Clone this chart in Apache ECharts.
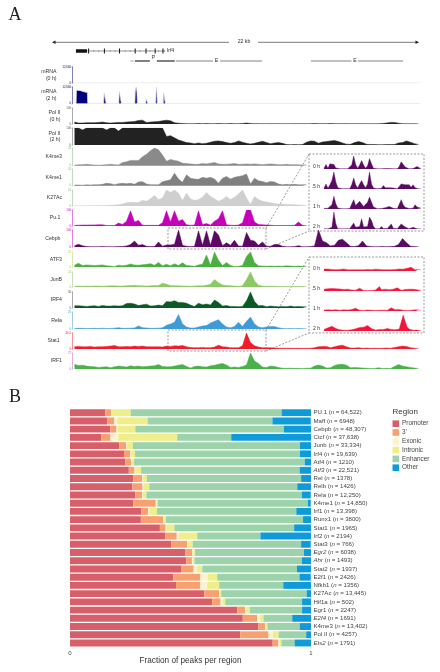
<!DOCTYPE html>
<html><head><meta charset="utf-8">
<style>html,body{margin:0;padding:0;background:#fff}#c{width:440px;height:672px}</style>
<script src="https://cdn.jsdelivr.net/npm/echarts@6/dist/echarts.min.js"></script>
</head><body><div id="c"></div>
<script>
// ---------- Panel B data ----------
const factors=['PU.1','Maff','Cebpb','Ctcf','Junb','Irf4','Atf4','Atf3','Rel','Relb','Rela','K4me1','Irf1','Runx1','Stat1','Irf2','Stat3','Egr2','Ahr','Stat2','E2f1','Nfkb1','K27Ac','Hif1a','Egr1','E2f4','K4me3','Pol II','Ets2'];
const peakCounts=['64,522','6948','48,307','37,638','33,334','19,639','1210','22,521','1378','1426','12,250','14,850','13,398','3800','1965','2194','766','6038','1493','1937','2426','1356','13,445','502','2247','1691','13,402','4257','1791'];
const italicFactors=['Atf3','Egr2','Ahr','E2f4','Ets2'];
const promoter=[14.7,15.5,16.8,12.9,20.5,22.4,23,24.4,26.2,25.9,27.1,26.2,29.5,29.4,37.3,39.5,42.1,47.8,48.2,46.3,42.9,44,55.8,59,69.4,71.7,78.1,70.6,84.1];
const threePrime=[2.4,2.9,2.5,3.9,2.8,2.5,2.4,2.4,3.7,4.2,2.8,9.4,3,9.3,2.4,4.8,6.5,3,2.4,5,11.2,10.1,6.1,3.5,3.2,6,2.9,11.8,2.4];
const exonic=[0.3,1.2,0.6,3.2,0.4,0.3,0.4,0.3,0.3,0.4,0.3,0.4,0.7,0.4,0.4,1,0.4,0.4,0.4,1.4,3,2.8,0.4,0.8,0.6,1.2,0.3,1.8,0.4];
const intronic=[7.8,12.6,7.2,24.5,2.4,1.8,0.8,2.4,1.7,2.4,1.5,0.4,2.9,0.7,3.2,7.5,1.9,0.7,0.7,2.2,4,5,0.4,1.1,1.4,1.4,0.6,2.4,0.8];
const enhancer=[62.6,51.8,61.6,22.4,69.3,68.4,70.8,65.8,64,61.4,64.5,62.3,57.8,56.9,49.7,26.2,45,45.2,44.5,39.3,34.1,26.6,35.5,31.9,21.7,11.9,13.4,11.4,5.5];
const other=[12.3,15.9,11.4,33.1,4.7,4.6,2.6,4.8,4.2,5.8,3.7,1.2,6.1,3.3,7.1,21.1,4,2.9,3.9,5.8,4.7,11.5,1.8,3.7,3.7,7.8,4.7,2.1,6.8];
const regionNames=['Promoter',"3'",'Exonic','Intronic','Enhancer','Other'];

// ---------- Panel A data: track height as % of track scale, one value per genome bin ----------
const mrna2h=[[0.9,0],[1,80],[1.4,92],[2,78],[2.6,72],[3,70],[3.7,66],[3.8,0],[7.8,0],[7.9,62],[8.3,62],[8.4,0],[11.6,0],[11.7,72],[12.1,72],[12.2,0],[15.6,0],[15.7,70],[15.9,100],[16.1,70],[16.2,0],[18.3,0],[18.4,26],[18.7,26],[18.8,0],[20.8,0],[20.9,60],[21,100],[21.1,60],[21.2,0],[22.7,0],[22.8,62],[23.1,62],[23.2,0],[87,0]];
const mrna0h=[[0,0],[87,0]];
const pol0h=[12,6,6,8,8,8,10,12,8,6,8,10,10,12,14,16,22,24,10,12,14,16,20,24,20,8,5,3,2,2,2,3,2,3,2,2,3,2,2,3,2,2,3,6,3,2,2,1,1,2,1,2,1,1,1,2,1,2,1,2,3,2,2,2,3,2,2,2,2,1,2,1,2,1,1,1,2,3,6,10,10,5,2,1,1,1,1];
const pol2h=[100,100,88,100,100,100,100,100,88,100,100,82,100,100,100,100,100,100,100,100,100,100,100,50,55,42,30,22,14,12,8,12,8,10,16,22,24,20,14,10,14,24,16,10,6,10,16,22,14,8,12,14,10,3,2,3,2,3,16,24,22,10,18,20,24,26,20,12,5,4,14,20,14,4,3,3,2,2,3,3,3,12,14,24,16,8,3];
const k4me3=[3,5,6,8,6,4,3,4,6,8,6,4,18,22,30,30,30,50,65,85,100,90,60,25,35,30,25,14,12,10,8,8,12,10,14,18,10,8,8,10,12,8,8,10,8,10,8,6,8,10,8,6,6,8,5,6,5,4,4];
const k4me1=[4,4,3,5,4,6,6,8,14,12,6,12,14,12,14,8,22,24,10,6,6,5,24,30,35,75,40,20,65,45,40,38,50,45,50,40,15,45,55,40,50,55,60,70,10,45,30,25,18,25,22,10,6,8,6,8,5,6,5];
const k27ac=[1,1,2,2,2,2,3,3,3,4,6,8,12,20,24,22,22,35,30,45,65,40,50,100,85,100,80,35,80,45,35,40,55,85,60,45,30,40,60,40,55,75,100,50,10,60,40,30,25,20,15,12,12,10,10,8,6,5,4];
const pu1=[4,5,6,6,7,7,8,8,3,3,3,18,10,30,95,25,35,5,4,4,4,4,20,95,25,95,30,40,8,5,6,95,10,15,6,30,45,95,8,5,4,6,20,100,100,25,10,8,6,5,3,3,3,3,3,5,25,4,3];
const cebpb=[8,16,8,3,2,2,2,3,2,2,2,3,3,6,14,35,10,14,4,3,3,30,5,12,12,16,100,10,4,3,4,95,10,95,10,95,70,8,25,10,40,6,4,85,40,35,10,30,5,4,15,14,4,2,2,3,8,2,2,3,6,100,35,25,6,10,40,45,25,4,3,8,35,6,3,2,2,3,2,3,4,15,50,25,5,3,2];
const atf3=[12,25,10,14,12,10,12,14,8,6,3,12,8,12,20,14,12,15,18,22,12,30,8,18,8,22,10,28,10,8,5,14,18,80,12,100,45,10,30,10,4,5,10,70,100,30,8,6,5,6,5,6,5,8,6,5,6,5,4];
const junb=[4,6,5,6,5,6,6,5,6,8,8,6,6,8,10,12,8,8,6,8,10,10,25,18,10,8,8,6,6,5,6,8,8,12,18,50,28,14,10,8,6,5,8,50,100,40,12,6,5,5,5,4,4,3,3,3,4,3,3];
const irf4=[14,14,12,10,12,14,10,16,12,12,14,12,14,28,30,25,15,20,24,12,14,18,14,40,38,45,35,35,30,18,10,30,20,25,18,50,35,12,15,10,10,8,10,45,100,40,14,16,8,12,10,8,10,8,12,8,10,8,8];
const rela=[3,4,4,3,3,4,3,5,3,3,5,8,4,4,5,6,18,8,6,4,4,5,8,22,30,40,85,30,12,6,6,12,18,20,35,45,55,30,12,8,15,40,15,45,70,30,12,8,12,14,14,8,3,2,3,2,3,2,2];
const stat1=[14,16,14,14,16,12,14,14,16,18,22,14,14,16,14,18,16,18,14,14,14,14,12,18,16,20,18,22,14,10,8,8,10,8,8,12,24,14,12,8,8,8,20,100,40,20,12,8,8,8,6,5,5,5,5,4,5,4,5,5,8,14,16,16,8,14,20,24,14,6,6,8,5,6,4,5,4,5,6,4,10,14,18,16,8,5,4];
const irf1=[28,22,24,18,16,14,10,12,14,8,14,18,16,12,20,16,18,14,16,18,20,28,16,14,14,18,24,28,16,6,16,18,14,12,20,24,30,35,25,10,12,10,16,25,100,50,35,12,10,18,16,10,5,4,5,4,4,3,5,5,18,25,18,6,8,22,28,30,24,8,10,8,6,5,3,3,8,3,4,3,16,28,18,14,10,6,3];
// zoomed insets (Cebpb and Stat1 at 0, .5, 1, 2 h)
const cebpbIn0=[5,35,5,40,55,35,8,4,2,2,2,2,2,2,30,100,35,6,30,65,30,6,25,80,40,5,2,1,1,2,3,4,5,3,5,2,1,1,20,55,50,15,2,1,2,3,8,20,12,2];
const cebpbIn5=[5,30,5,25,50,100,40,8,3,2,2,2,2,2,25,65,25,6,30,50,25,8,30,100,30,6,3,2,2,4,20,8,15,8,14,6,3,2,15,30,40,25,15,25,10,25,8,2,1,1];
const cebpbIn1=[3,10,5,6,25,75,30,6,3,2,2,1,1,3,30,55,20,10,45,45,15,15,40,70,40,12,4,2,2,3,5,8,6,15,10,4,2,2,10,55,25,10,3,3,2,5,25,12,20,5];
const cebpbIn2=[1,1,1,1,10,100,30,2,1,1,1,1,1,1,10,35,10,2,15,60,12,2,15,70,50,15,2,1,1,15,3,2,3,10,30,5,1,1,10,30,20,12,3,1,1,10,4,1,1,1];
const stat1In0=[15,12,15,10,12,18,10,8,12,10,15,12,10,14,10,8,10,12,10,14,10,15,12,20,10,15,14,8,12,14,10,8,10,12,10,15,12,18,15,12,14,16,22,30,28,18,10,8,12,10];
const stat1In5=[14,25,18,12,20,15,18,12,16,20,12,18,14,16,8,3,6,3,22,18,4,8,3,6,4,10,8,8,35,10,6,14,18,10,6,14,16,25,14,5,18,12,10,14,22,14,20,10,8,4];
const stat1In1=[8,4,10,6,8,5,10,8,6,12,10,18,8,5,12,6,22,10,6,14,4,6,8,5,6,8,4,6,5,4,6,8,6,5,25,18,10,22,12,15,6,3,4,10,6,3,10,4,8,3];
const stat1In2=[10,18,20,22,30,25,15,12,8,6,5,4,5,4,8,10,14,18,22,28,24,30,35,30,15,10,6,8,10,12,10,14,16,22,10,6,8,10,12,22,100,60,25,12,8,5,4,6,5,4];
// gene model and annotated regions, kb along the 22 kb locus
const geneSpan=[1.44,6.8];
const utrSpan=[1.44,2.1];
const exonsKb=[2.2,3.15,4.06,5.0,5.65,6.2,6.67];
const intronMarksKb=[2.5,2.8,3.5,3.8,4.4,4.7,5.3,5.9,6.4,6.75];
const promoterBars=[[4.98,5.88],[6.3,7.38]];
const smallBar=[[4.7,4.92]];
const enhancerBars=[[7.45,9.68],[10.1,12.63],[15.55,18],[18.4,21.1]];

const trackLabels=['mRNA\n(0 h)','mRNA\n(2 h)','Pol II\n(0 h)','Pol II\n(2 h)','K4me3','K4me1','K27Ac','Pu.1','Cebpb','ATF3','JunB','IRF4','Rela','Stat1','IRF1'];
const trackScales=['12,660','12,660','100','100','22','41','51','100','100','25','21','30','25','40.5','27'];

// ---------- Layout and styling ----------
const TR=[[67,83,87,'#00007f',mrna0h],[87,103.5,87,'#00007f',mrna2h],[108,124,87,'#222',pol0h],[128,145,87,'#222',pol2h],
[148,165.7,59,'#8a8a8a',k4me3],[169,185.7,59,'#808080',k4me1],[190,206,59,'#cfcfcf',k27ac],[210,226,59,'#c400bb',pu1],[230,247,87,'#5b0a63',cebpb],
[252,267,59,'#4aaf3f',atf3],[272,287,59,'#8cc864',junb],[292,308,59,'#0b5a25',irf4],[312,329,59,'#3f9ad8',rela],[333,349,87,'#f01c2c',stat1],[353,369,87,'#49b04a',irf1]];
const axisCols=['#00007f','#00007f','#555','#555','#7cb87c','#7cb87c','#7cb87c','#c400bb','#c400bb','#bcd24a','#8cc864','#555','#3f9ad8','#f01c2c','#c060c0'];
const INS=[[156,169,'#5b0a63',cebpbIn0,'0 h'],[172,189,'#5b0a63',cebpbIn5,'.5 h'],[192,209,'#5b0a63',cebpbIn1,'1 h'],[212,229,'#5b0a63',cebpbIn2,'2 h'],
[258,271,'#f5143c',stat1In0,'0 h'],[278,291,'#f5143c',stat1In5,'.5 h'],[298,311,'#f5143c',stat1In1,'1 h'],[315,331,'#f5143c',stat1In2,'2 h']];
const F='Arial, "Liberation Sans", sans-serif';
const grid=[],xAxis=[],yAxis=[],series=[];
function addGrid(g,x,y){const i=grid.length;grid.push(g);xAxis.push(Object.assign({gridIndex:i},x));yAxis.push(Object.assign({gridIndex:i},y));return i;}
const hidden={show:false};
const noX={type:'value',axisLine:hidden,axisTick:hidden,axisLabel:hidden,splitLine:hidden};

TR.forEach((t,k)=>{
 const i=addGrid({left:72.5,top:t[0],width:t[2]*4,height:t[1]-t[0],containLabel:false},
  Object.assign({},noX,{min:0,max:t[2]}),
  {type:'value',min:0,max:100,interval:100,splitLine:hidden,
   name:trackLabels[k],nameLocation:'middle',nameRotate:0,nameGap:8,
   nameTextStyle:{fontFamily:F,fontSize:5.2,color:'#333',align:'right',verticalAlign:'middle',lineHeight:6.4},
   axisLine:{show:true,lineStyle:{color:axisCols[k],width:.5}},
   axisTick:{show:true,length:1,lineStyle:{color:axisCols[k],width:.4}},
   axisLabel:{fontFamily:F,fontSize:2.8,margin:1.5,color:axisCols[k],formatter:v=>v?trackScales[k]:'0'}});
 const d=t[4];
 const pts=Array.isArray(d[0])?d:d.map((v,j)=>[j+.5,v]);
 series.push({type:'line',xAxisIndex:i,yAxisIndex:i,data:pts,showSymbol:false,silent:true,animation:false,
  lineStyle:k<2?{color:'#d8d8d8',width:.7}:{color:t[3],width:.5},
  areaStyle:{color:t[3],opacity:1},itemStyle:{color:t[3]},clip:true});
});

INS.forEach(t=>{
 const i=addGrid({left:323,top:t[0],width:99,height:t[1]-t[0]},
  Object.assign({},noX,{min:0,max:50}),
  {type:'value',min:0,max:100,splitLine:hidden,axisLine:hidden,axisTick:hidden,axisLabel:hidden,
   name:t[4],nameLocation:'start',nameRotate:0,nameGap:-2,
   nameTextStyle:{fontFamily:F,fontSize:5,color:'#333',align:'right',verticalAlign:'middle',padding:[0,3,0,0]}});
 series.push({type:'line',xAxisIndex:i,yAxisIndex:i,data:t[3].map((v,j)=>[j+.5,v]),showSymbol:false,silent:true,animation:false,
  lineStyle:{color:t[2],width:.4},areaStyle:{color:t[2],opacity:1}});
});

// gene model strip
const annot=addGrid({left:52,top:45,width:366,height:22},
 Object.assign({},noX,{min:0,max:22}),
 {type:'value',min:0,max:22,inverse:true,axisLine:hidden,axisTick:hidden,axisLabel:hidden,splitLine:hidden});
function segs(list,y){const o=[];list.forEach(s=>{o.push([s[0],y],[s[1],y],null);});return o;}
function annotLine(data,color,width){series.push({type:'line',xAxisIndex:annot,yAxisIndex:annot,data,showSymbol:false,silent:true,animation:false,connectNulls:false,
 lineStyle:{color,width,cap:'butt'}});}
annotLine(segs([geneSpan],6),'#333',.5);
annotLine(segs([utrSpan],6),'#111',3.6);
annotLine(exonsKb.flatMap(k=>[[k,3.5],[k,8.5],null]),'#111',1);
annotLine(intronMarksKb.flatMap(k=>[[k,5],[k,7],null]),'#555',.4);
annotLine(segs(smallBar,16),'#b0b0b0',1.2);
annotLine(segs(promoterBars,16),'#555',1.3);
annotLine(segs(enhancerBars,16),'#adadad',1.5);

// Panel B stacked bars
const bGrid=addGrid({left:70,top:408.6,width:241,height:238.5},
 {type:'value',min:0,max:100,interval:100,position:'bottom',splitLine:hidden,axisLine:hidden,axisTick:hidden,
  axisLabel:{fontFamily:F,fontSize:6,color:'#444',margin:3,formatter:v=>String(v/100)},
  name:'Fraction of peaks per region',nameLocation:'middle',nameGap:8,nameTextStyle:{fontFamily:F,fontSize:8.2,color:'#333'}},
 {type:'category',data:factors,inverse:true,position:'right',axisLine:hidden,axisTick:hidden,splitLine:hidden,
  axisLabel:{margin:2.5,interval:0,formatter:(v)=>{
    const name=italicFactors.includes(v)?`{it|${v}}`:`{r|${v}}`;
    return `${name}{r| (}{it|n}{r| = ${peakCounts[factors.indexOf(v)]})}`;},
   rich:{r:{fontFamily:F,fontSize:6.1,color:'#444'},it:{fontFamily:F,fontSize:6.1,color:'#444',fontStyle:'italic'}}}});
const regionCols=['#d65f6a','#f9a071','#fdf3d0','#eeee8a','#9dd3ab','#0f9bd8'];
[promoter,threePrime,exonic,intronic,enhancer,other].forEach((vals,k)=>{
 series.push({type:'bar',name:regionNames[k],stack:'peaks',xAxisIndex:bGrid,yAxisIndex:bGrid,data:vals,barWidth:6.9,silent:true,animation:false,itemStyle:{color:regionCols[k]}});
});

// annotation drawing
const dash={stroke:'#555',lineWidth:.6,lineDash:[2,1.5]};
const rect=(x,y,w,h)=>({type:'rect',silent:true,shape:{x,y,width:w,height:h},style:Object.assign({fill:'none'},dash)});
const seg=(x1,y1,x2,y2,style)=>({type:'line',silent:true,shape:{x1,y1,x2,y2},style:style||dash});
const txt=(x,y,text,o)=>({type:'text',silent:true,x,y,style:Object.assign({text,fontFamily:F,fontSize:5,fill:'#333',textAlign:'center',textVerticalAlign:'middle'},o||{})});
const ruler={stroke:'#444',lineWidth:.7};
const graphic=[
 rect(309,154,115,77),rect(309,257,115,76),rect(168,228,98,21),rect(168,330,98,21),
 seg(266,228,309,154),seg(266,249,309,231),seg(266,330,309,257),seg(266,351,309,333),
 seg(54,42.3,229,42.3,ruler),seg(258,42.3,418,42.3,ruler),
 {type:'polygon',silent:true,shape:{points:[[52,42.3],[55.5,40.6],[55.5,44]]},style:{fill:'#222'}},
 {type:'polygon',silent:true,shape:{points:[[419,42.3],[415.5,40.6],[415.5,44]]},style:{fill:'#222'}},
 txt(244,42,'22 kb',{fontSize:5.2}),txt(170.5,51,'Irf4',{fontSize:5.2}),
 txt(153.5,58,'P',{fontSize:5.2}),txt(216.5,61,'E',{fontSize:5.2}),txt(355,61,'E',{fontSize:5.2}),
 txt(15,15.5,'A',{fontFamily:'"Liberation Serif",serif',fontSize:18,fill:'#222'}),
 txt(15,397,'B',{fontFamily:'"Liberation Serif",serif',fontSize:18,fill:'#222'}),
 txt(392.5,412,'Region',{fontSize:8,textAlign:'left'})
];

const chart=echarts.init(document.getElementById('c'),null,{renderer:'canvas'});
chart.setOption({animation:false,backgroundColor:'#fff',grid,xAxis,yAxis,series,graphic,
 legend:{data:regionNames,orient:'vertical',left:392.5,top:420.4,padding:0,itemWidth:6.6,itemHeight:6.6,itemGap:2.2,icon:'rect',selectedMode:false,
  textStyle:{fontFamily:F,fontSize:6.4,color:'#444',padding:[0,0,0,-2]}}});
</script></body></html>
